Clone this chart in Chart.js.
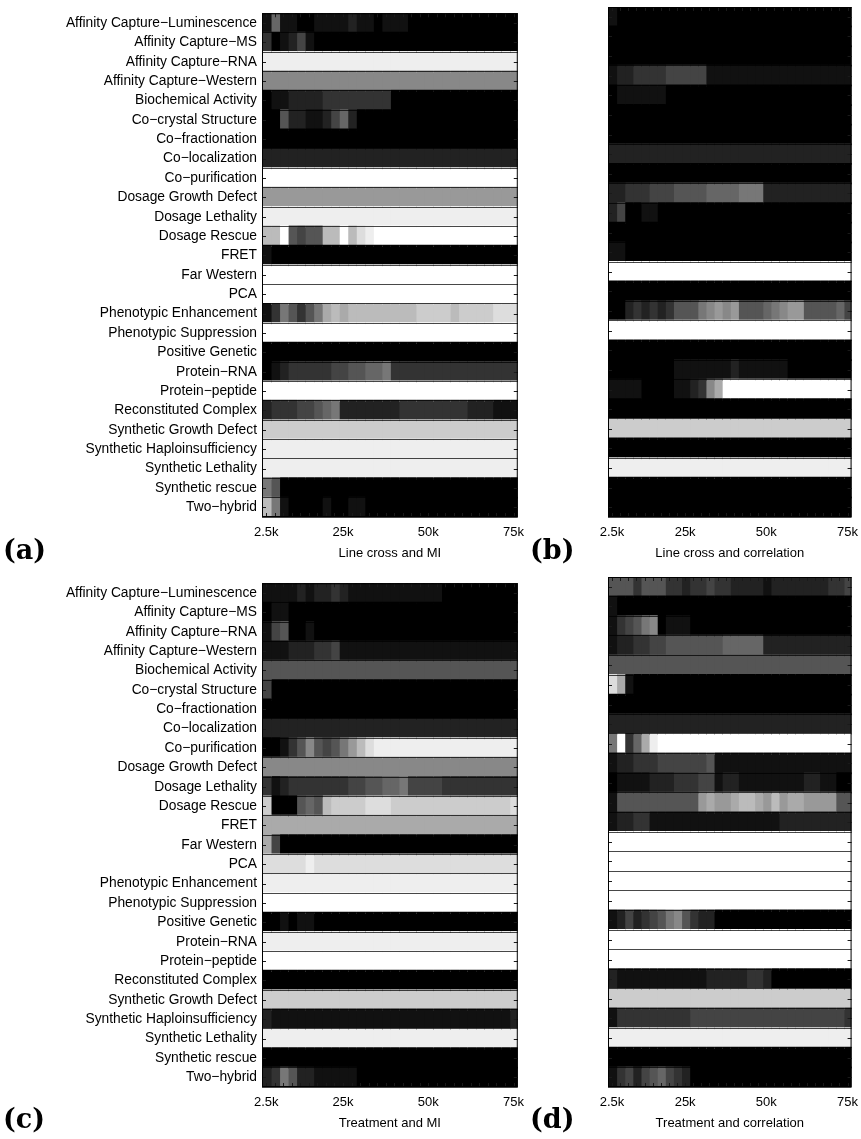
<!DOCTYPE html>
<html>
<head>
<meta charset="utf-8">
<script src="https://cdn.jsdelivr.net/npm/chart.js@4.4.1/dist/chart.umd.min.js"></script>
<style>
  html, body { margin: 0; padding: 0; background: #fff; }
  body { position: relative; width: 861px; height: 1139px; overflow: hidden; }
  canvas { position: absolute; }
  .tag { position: absolute; font-family: 'DejaVu Serif', 'Liberation Serif', serif; font-weight: bold;
         font-size: 27px; line-height: 1; color: #000; }
</style>
</head>
<body>
<canvas id="panelA" width="532" height="565" style="left:0px;top:0px;width:532px;height:565px"></canvas>
<canvas id="panelB" width="336" height="565" style="left:530px;top:0px;width:336px;height:565px"></canvas>
<canvas id="panelC" width="532" height="565" style="left:0px;top:570px;width:532px;height:565px"></canvas>
<canvas id="panelD" width="336" height="565" style="left:530px;top:570px;width:336px;height:565px"></canvas>
<div class="tag" style="left:3px;top:536px">(a)</div>
<div class="tag" style="left:530px;top:536px">(b)</div>
<div class="tag" style="left:3px;top:1105px">(c)</div>
<div class="tag" style="left:530px;top:1105px">(d)</div>
<script>
// Interaction types (one row each, top to bottom)
const rowLabels = [
  "Affinity Capture\u2212Luminescence", "Affinity Capture\u2212MS", "Affinity Capture\u2212RNA",
  "Affinity Capture\u2212Western", "Biochemical Activity", "Co\u2212crystal Structure",
  "Co\u2212fractionation", "Co\u2212localization", "Co\u2212purification", "Dosage Growth Defect",
  "Dosage Lethality", "Dosage Rescue", "FRET", "Far Western", "PCA", "Phenotypic Enhancement",
  "Phenotypic Suppression", "Positive Genetic", "Protein\u2212RNA", "Protein\u2212peptide",
  "Reconstituted Complex", "Synthetic Growth Defect", "Synthetic Haploinsufficiency",
  "Synthetic Lethality", "Synthetic rescue", "Two\u2212hybrid"
];

// Number of top-ranked pairs, one column per step
const xValues = [2500, 5000, 7500, 10000, 12500, 15000, 17500, 20000, 22500, 25000,
                 27500, 30000, 32500, 35000, 37500, 40000, 42500, 45000, 47500, 50000,
                 52500, 55000, 57500, 60000, 62500, 65000, 67500, 70000, 72500, 75000];
const xTickValues = [2500, 25000, 50000, 75000];
const xTickLabels = ["2.5k", "25k", "50k", "75k"];

// Enrichment level per cell, one hex digit (0 = none, f = full) per column
const cellsLineMI = [
  "16110 01111 21101 11000 00000 00000",
  "30124 10000 00000 00000 00000 00000",
  "eeeee eeeee eeeee eeeee eeeee eeeee",
  "88888 88888 88888 88888 88888 88888",
  "01122 22333 33333 00000 00000 00000",
  "00522 11246 20000 00000 00000 00000",
  "00000 00000 00000 00000 00000 00000",
  "22222 22222 22222 22222 22222 22222",
  "fffff fffff fffff fffff fffff fffff",
  "99999 99999 99999 99999 99999 99999",
  "eeeee eeeee eeeee eeeee eeeee eeeee",
  "bbf54 55bbf bdeff fffff fffff fffff",
  "10000 00000 00000 00000 00000 00000",
  "fffff fffff fffff fffff fffff fffff",
  "fffff fffff fffff fffff fffff fffff",
  "13753 57aba bbbbb bbbcc ccbcc ccddd",
  "fffff fffff fffff fffff fffff fffff",
  "00000 00000 00000 00000 00000 00000",
  "01233 33344 55667 33333 33333 33333",
  "fffff fffff fffff fffff fffff fffff",
  "23334 45672 22222 23333 33332 22111",
  "ccccc ccccc ccccc ccccc ccccc ccccc",
  "eeeee eeeee eeeee eeeee eeeee eeeee",
  "eeeee eeeee eeeee eeeee eeeee eeeee",
  "75000 00000 00000 00000 00000 00000",
  "b7100 00100 11000 00000 00000 00000"
];

const cellsLineCorr = [
  "10000 00000 00000 00000 00000 00000",
  "00000 00000 00000 00000 00000 00000",
  "00000 00000 00000 00000 00000 00000",
  "12233 33444 44111 11111 11111 11111",
  "01111 11000 00000 00000 00000 00000",
  "00000 00000 00000 00000 00000 00000",
  "00000 00000 00000 00000 00000 00000",
  "22222 22222 22222 22222 22222 22222",
  "00000 00000 00000 00000 00000 00000",
  "22333 44455 55666 67772 22222 22222",
  "24001 10000 00000 00000 00000 00000",
  "00000 00000 00000 00000 00000 00000",
  "11000 00000 00000 00000 00000 00000",
  "fffff fffff fffff fffff fffff fffff",
  "00000 00000 00000 00000 00000 00000",
  "00232 32355 57898 95556 78995 55564",
  "fffff fffff fffff fffff fffff fffff",
  "00000 00000 00000 00000 00000 00000",
  "00000 00011 11111 21111 11000 00000",
  "11110 00011 238af fffff fffff fffff",
  "00000 00000 00000 00000 00000 00000",
  "ccccc ccccc ccccc ccccc ccccc ccccc",
  "00000 00000 00000 00000 00000 00000",
  "eeeee eeeee eeeee eeeee eeeee eeeee",
  "00000 00000 00000 00000 00000 00000",
  "00000 00000 00000 00000 00000 00000"
];

const cellsTreatMI = [
  "11112 12232 11111 11111 10000 00000",
  "01100 00000 00000 00000 00000 00000",
  "14500 10000 00000 00000 00000 00000",
  "11122 23341 11111 11111 11111 11111",
  "55555 55555 55555 55555 55555 55555",
  "40000 00000 00000 00000 00000 00000",
  "00000 00000 00000 00000 00000 00000",
  "22222 22222 22222 22222 22222 22222",
  "00135 85457 9bdee eeeee eeeee eeeee",
  "88888 88888 88888 88888 88888 88888",
  "31233 33333 44556 67444 43333 33333",
  "c0005 65bcc ccddd ccccc ccccc ccccd",
  "aaaaa aaaaa aaaaa aaaaa aaaaa aaaaa",
  "a4000 00000 00000 00000 00000 00000",
  "ddddd edddd ddddd ddddd ddddd ddddd",
  "eeeee eeeee eeeee eeeee eeeee eeeee",
  "fffff fffff fffff fffff fffff fffff",
  "00101 10000 00000 00000 00000 00000",
  "eeeee eeeee eeeee eeeee eeeee eeeee",
  "fffff fffff fffff fffff fffff fffff",
  "00000 00000 00000 00000 00000 00000",
  "ccccc ccccc ccccc ccccc ccccc ccccc",
  "21111 11111 11111 11111 11111 11112",
  "eeeee eeeee eeeee eeeee eeeee eeeee",
  "00000 00000 00000 00000 00000 00000",
  "23752 21111 10000 00000 00000 00000"
];

const cellsTreatCorr = [
  "55535 55332 33433 22221 22222 22334",
  "10000 00000 00000 00000 00000 00000",
  "13457 80111 00000 00000 00000 00000",
  "12233 44555 55556 66662 22222 22222",
  "55555 55555 55555 55555 55555 55555",
  "da100 00000 00000 00000 00000 00000",
  "00000 00000 00000 00000 00000 00000",
  "22222 22222 22222 22222 22222 22222",
  "7f36a effff fffff fffff fffff fffff",
  "12233 34444 44511 11111 11111 11111",
  "01111 22233 34412 21111 11112 21100",
  "15555 55555 59a99 abba9 b9aa9 99955",
  "12233 11111 11111 11111 12222 22222",
  "fffff fffff fffff fffff fffff fffff",
  "fffff fffff fffff fffff fffff fffff",
  "fffff fffff fffff fffff fffff fffff",
  "fffff fffff fffff fffff fffff fffff",
  "12423 45785 32200 00000 00000 00000",
  "fffff fffff fffff fffff fffff fffff",
  "fffff fffff fffff fffff fffff fffff",
  "21111 11111 11222 22332 00000 00000",
  "ccccc ccccc ccccc ccccc ccccc ccccc",
  "13333 33333 44444 44444 44444 44443",
  "eeeee eeeee eeeee eeeee eeeee eeeee",
  "00000 00000 00000 00000 00000 00000",
  "13424 56432 00000 00000 00000 00000"
];

const AXIS_FONT = { family: "'Liberation Sans', Arial, Helvetica, sans-serif", size: 13 };
const ROW_FONT = { family: "'Liberation Sans', Arial, Helvetica, sans-serif", size: 13.8 };

function levelsOf(rowText) {
  return rowText.replace(/\s+/g, '').split('').map(ch => parseInt(ch, 16));
}
function grayCss(level) {
  const g = level * 17;
  return `rgb(${g},${g},${g})`;
}

// Frame and inward tick marks drawn over the cells
const framePlugin = {
  id: 'frameTicks',
  afterDraw(chart) {
    const { ctx, chartArea: a, scales } = chart;
    const xs = scales.x, ys = scales.y;
    ctx.save();
    ctx.lineWidth = 1;
    ctx.strokeStyle = '#1a1a1a';
    ctx.beginPath();
    rowLabels.forEach((_, i) => {
      const py = Math.round(ys.getPixelForValue(i)) + 0.5;
      ctx.moveTo(a.left, py); ctx.lineTo(a.left + 4, py);
      ctx.moveTo(a.right, py); ctx.lineTo(a.right - 4, py);
    });
    xValues.forEach(v => {
      const px = Math.round(xs.getPixelForValue(v)) + 0.5;
      ctx.moveTo(px, a.bottom); ctx.lineTo(px, a.bottom - 4);
      ctx.moveTo(px, a.top); ctx.lineTo(px, a.top + 4);
    });
    ctx.stroke();
    ctx.strokeStyle = '#000';
    ctx.strokeRect(a.left + 0.5, a.top + 0.5, a.right - a.left - 1, a.bottom - a.top - 1);
    ctx.restore();
  }
};

function makePanel(canvasId, cells, xTitle, showRowLabels, frame) {
  const canvas = document.getElementById(canvasId);
  const halfStep = (xValues[1] - xValues[0]) / 2;
  const grid = cells.map(levelsOf);
  const datasets = xValues.map((xv, j) => ({
    data: rowLabels.map(() => [xv - halfStep, xv + halfStep]),
    backgroundColor: grid.map(row => grayCss(row[j])),
    borderWidth: 0,
    inflateAmount: 1,
    grouped: false,
    barPercentage: 1,
    categoryPercentage: 1
  }));
  return new Chart(canvas, {
    type: 'bar',
    data: { labels: rowLabels, datasets },
    options: {
      indexAxis: 'y',
      responsive: false,
      animation: false,
      devicePixelRatio: 1,
      events: [],
      layout: { padding: { top: frame.top, right: 0, left: 0, bottom: 0 } },
      plugins: { legend: { display: false }, tooltip: { enabled: false } },
      scales: {
        x: {
          type: 'linear',
          position: 'bottom',
          min: xValues[0] - halfStep,
          max: xValues[xValues.length - 1] + halfStep,
          afterBuildTicks: s => { s.ticks = xTickValues.map(v => ({ value: v })); },
          ticks: {
            callback: (v, i) => xTickLabels[i],
            font: AXIS_FONT, color: '#000', padding: 8, maxRotation: 0, autoSkip: false
          },
          grid: { display: false, drawTicks: false },
          border: { display: false },
          title: { display: true, text: xTitle, font: AXIS_FONT, color: '#000', padding: { top: 2, bottom: 4 } },
          afterFit: s => { s.height = frame.xAxisHeight; }
        },
        y: {
          type: 'category',
          offset: true,
          ticks: { display: showRowLabels, font: ROW_FONT, color: '#000', padding: 5, autoSkip: false },
          grid: { offset: true, color: 'rgba(0,0,0,0.72)', lineWidth: 1, drawTicks: false, z: 1 },
          border: { display: false },
          afterFit: s => { s.width = frame.yAxisWidth; }
        }
      }
    },
    plugins: [framePlugin]
  });
}

const leftFrame = { top: 7, yAxisWidth: 262, xAxisHeight: 48 };
const rightFrame = { top: 7, yAxisWidth: 78, xAxisHeight: 48 };

makePanel('panelA', cellsLineMI, 'Line cross and MI', true, leftFrame);
makePanel('panelB', cellsLineCorr, 'Line cross and correlation', false, rightFrame);
makePanel('panelC', cellsTreatMI, 'Treatment and MI', true, leftFrame);
makePanel('panelD', cellsTreatCorr, 'Treatment and correlation', false, rightFrame);
</script>
</body>
</html>
